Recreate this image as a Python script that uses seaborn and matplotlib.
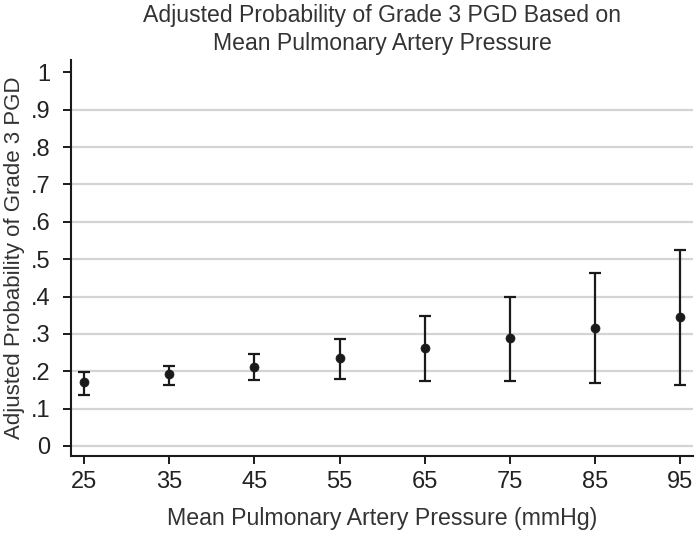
import numpy as np
import seaborn as sns
import matplotlib.pyplot as plt

# mean pulmonary artery pressure (mmHg)
mpap = [25, 35, 45, 55, 65, 75, 85, 95]
# adjusted probability and 95% CI
prob = [0.170, 0.192, 0.212, 0.236, 0.261, 0.288, 0.316, 0.344]
lower = [0.136, 0.162, 0.177, 0.178, 0.173, 0.173, 0.168, 0.162]
upper = [0.199, 0.214, 0.246, 0.286, 0.348, 0.399, 0.462, 0.524]

yticks = [0, .1, .2, .3, .4, .5, .6, .7, .8, .9, 1]
ytick_labels = ["0", ".1", ".2", ".3", ".4", ".5", ".6", ".7", ".8", ".9", "1"]

sns.set_style("white")
plt.rcParams['font.family'] = ['Liberation Sans', 'DejaVu Sans']

fig = plt.figure(figsize=(6.98, 5.34), dpi=100)
ax = fig.add_axes([0.1017, 0.146, 0.891, 0.7416])

# light horizontal grid (0 to .9, none at 1)
for g in yticks[:-1]:
    ax.axhline(g, color="#d4d4d4", lw=1.6, zorder=0)

err = np.array([np.array(prob) - np.array(lower), np.array(upper) - np.array(prob)])
ax.errorbar(mpap, prob, yerr=err, fmt="none", ecolor="#1a1a1a",
            elinewidth=1.6, capsize=4.2, capthick=1.6, zorder=2)
sns.scatterplot(x=mpap, y=prob, ax=ax, color="#1a1a1a", s=42,
                edgecolor="#1a1a1a", linewidth=0.5, zorder=3)

ax.set_xlim(23.47, 96.47)
ax.set_ylim(-0.027, 1.033)
ax.set_xticks(mpap)
ax.set_xticklabels([str(v) for v in mpap], fontsize=17, color="#222222")
ax.set_yticks(yticks)
ax.set_yticklabels(ytick_labels, fontsize=17, color="#222222")

for side in ["top", "right"]:
    ax.spines[side].set_visible(False)
for side in ["left", "bottom"]:
    ax.spines[side].set_color("#1a1a1a")
    ax.spines[side].set_linewidth(1.5)
ax.tick_params(axis="both", direction="out", length=6, width=1.4,
               color="#1a1a1a", left=True, bottom=True)
ax.tick_params(axis="x", pad=5)
ax.tick_params(axis="y", pad=9)

ax.set_xlabel("Mean Pulmonary Artery Pressure (mmHg)", fontsize=16.7,
              color="#333333", labelpad=10)
ax.set_ylabel("Adjusted Probability of Grade 3 PGD", fontsize=16,
              color="#333333", labelpad=4)
ax.set_title("Adjusted Probability of Grade 3 PGD Based on\nMean Pulmonary Artery Pressure",
             fontsize=16.6, color="#333333", pad=7, linespacing=1.27)

fig.savefig("out.png", dpi=100, facecolor="white")
